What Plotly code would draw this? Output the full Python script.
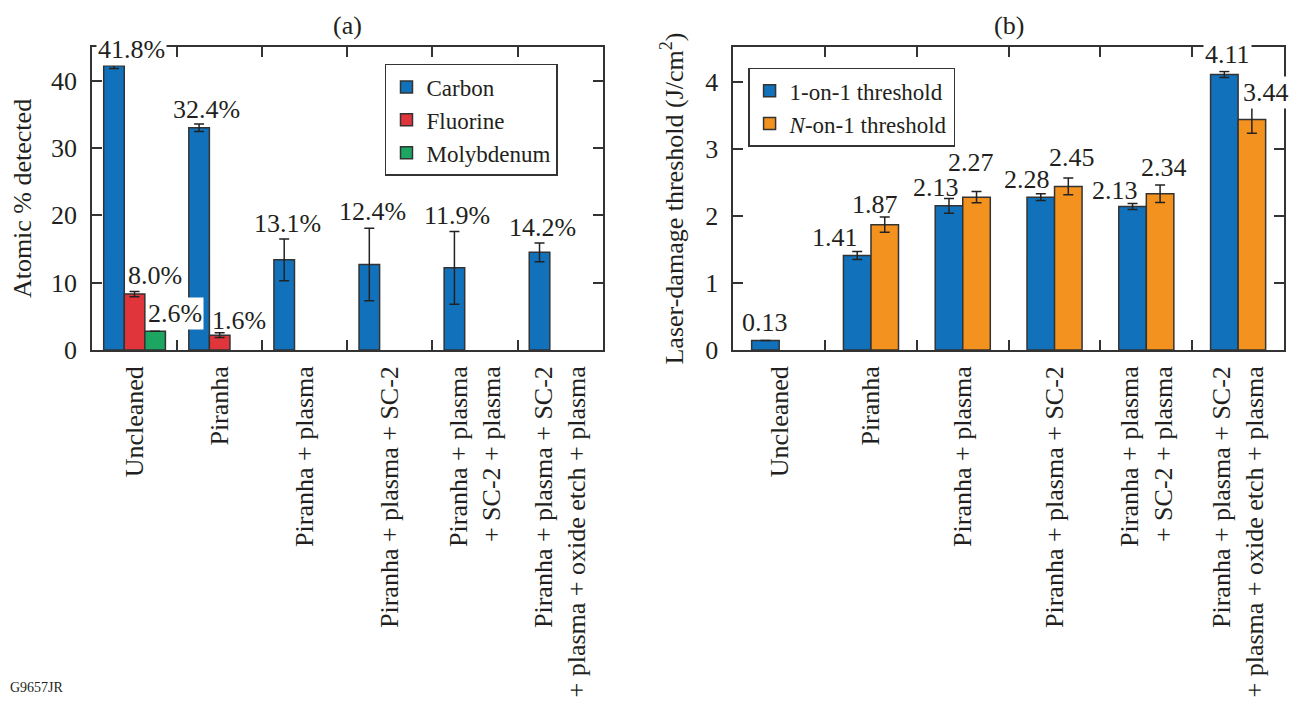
import plotly.graph_objects as go

# ---------------- data ----------------
categories = [
    "Uncleaned",
    "Piranha",
    "Piranha + plasma",
    "Piranha + plasma + SC-2",
    "Piranha + plasma<br>+ SC-2 + plasma",
    "Piranha + plasma + SC-2<br>+ plasma + oxide etch + plasma",
]

# panel (a): atomic % detected
carbon = [42.2, 33.0, 13.4, 12.7, 12.2, 14.5]
carbon_err = [0.4, 0.55, 3.1, 5.4, 5.4, 1.4]
carbon_labels = ["41.8%", "32.4%", "13.1%", "12.4%", "11.9%", "14.2%"]

fluorine = [8.3, 2.2, None, None, None, None]
fluorine_err = [0.4, 0.35, 0, 0, 0, 0]
fluorine_labels = ["8.0%", "1.6%", None, None, None, None]

molybdenum = [2.8, None, None, None, None, None]
molybdenum_err = [0, 0, 0, 0, 0, 0]
molybdenum_labels = ["2.6%", None, None, None, None, None]

# panel (b): laser-damage threshold (J/cm^2)
one_on_one = [0.14, 1.41, 2.15, 2.28, 2.14, 4.11]
one_on_one_err = [0, 0.06, 0.11, 0.05, 0.045, 0.045]
one_on_one_labels = ["0.13", "1.41", "2.13", "2.28", "2.13", "4.11"]

n_on_one = [None, 1.87, 2.28, 2.44, 2.33, 3.44]
n_on_one_err = [0, 0.115, 0.085, 0.125, 0.13, 0.205]
n_on_one_labels = [None, "1.87", "2.27", "2.45", "2.34", "3.44"]

# ---------------- style ----------------
FONT = "Liberation Serif"
TXT = "#231f20"
LINE = "#333333"
FS = 26
BLUE = "#1172bb"
RED = "#e1353c"
GREEN = "#1da562"
ORANGE = "#f4921f"

WA = 0.2417   # bar width panel (a), category units
WB = 0.30     # bar width panel (b)
DESC = 7      # px between text baseline and annotation box bottom

# label placement tweaks (px): horizontal shift and gap above the error bar
carbon_lab_dx = [18, 7, 3, 3, 3, 3]
carbon_lab_gap = [4.3, 4.9, 6.3, 7.2, 6.3, 6.3]
fluorine_lab_dx = [20.7, 19.3]
fluorine_lab_gap = [6.8, 2.9]
molybdenum_lab_dx = [19.6]
molybdenum_lab_gap = [8]
one_lab_dx = [0, -22, -13.4, -13.4, -17.9, 3.5]
one_lab_gap = [8.9, 4.8, 1.3, 4.6, 3.6, 7.6]
n_lab_dx = [0, -9.9, -5.6, 3.6, 3.8, 13.7]
n_lab_gap = [0, 3, 19.8, 11.4, 8.5, 4.1]
white_bg = {"41.8%", "2.6%", "4.11", "3.44"}

err_style = dict(type="data", color="#222222", thickness=1.5, width=5)
bar_line = dict(color=LINE, width=1.5)

fig = go.Figure()

def add_bar(y, err, name, color, offset, width, xa, ya, legend):
    fig.add_trace(go.Bar(
        x=categories, y=y, name=name,
        marker=dict(color=color, line=bar_line),
        error_y=dict(array=err, **err_style),
        offset=offset, width=width,
        xaxis=xa, yaxis=ya, legend=legend,
    ))

add_bar(carbon, carbon_err, "Carbon", BLUE, -1.5 * WA, WA, "x", "y", "legend")
add_bar(fluorine, fluorine_err, "Fluorine", RED, -0.5 * WA, WA, "x", "y", "legend")
add_bar(molybdenum, molybdenum_err, "Molybdenum", GREEN, 0.5 * WA, WA, "x", "y", "legend")
add_bar(one_on_one, one_on_one_err, "1-on-1 threshold", BLUE, -WB, WB, "x2", "y2", "legend2")
add_bar(n_on_one, n_on_one_err, "<i>N</i>-on-1 threshold", ORANGE, 0, WB, "x2", "y2", "legend2")

annotations = []

def add_labels(vals, errs, labels, slot, dxs, gaps, xref, yref):
    for i, (v, e, lab) in enumerate(zip(vals, errs, labels)):
        if v is None or lab is None:
            continue
        dx = dxs[i] if i < len(dxs) else 0
        gap = gaps[i] if i < len(gaps) else 6
        annotations.append(dict(
            x=i + slot, y=v + (e or 0), xref=xref, yref=yref,
            text=lab, showarrow=False, xanchor="center", yanchor="bottom",
            xshift=dx, yshift=gap - DESC, borderpad=1,
            bgcolor="white" if lab in white_bg else "rgba(0,0,0,0)",
            font=dict(family=FONT, size=FS, color=TXT),
        ))

add_labels(carbon, carbon_err, carbon_labels, -WA, carbon_lab_dx, carbon_lab_gap, "x", "y")
add_labels(fluorine, fluorine_err, fluorine_labels, 0, fluorine_lab_dx, fluorine_lab_gap, "x", "y")
add_labels(molybdenum, molybdenum_err, molybdenum_labels, WA, molybdenum_lab_dx, molybdenum_lab_gap, "x", "y")
add_labels(one_on_one, one_on_one_err, one_on_one_labels, -WB / 2, one_lab_dx, one_lab_gap, "x2", "y2")
add_labels(n_on_one, n_on_one_err, n_on_one_labels, WB / 2, n_lab_dx, n_lab_gap, "x2", "y2")

for txt, xp in [("(a)", 0.2141), ("(b)", 0.769)]:
    annotations.append(dict(x=xp, y=1.0726, xref="paper", yref="paper", text=txt,
                            showarrow=False, xanchor="center", yanchor="middle",
                            font=dict(family=FONT, size=FS, color=TXT)))
annotations.append(dict(x=-0.0702, y=-1.1155, xref="paper", yref="paper", text="G9657JR",
                        showarrow=False, xanchor="left", yanchor="middle",
                        font=dict(family=FONT, size=14, color=TXT)))

xcommon = dict(type="category", range=[-0.5, 5.5], tickson="boundaries", ticks="inside",
               ticklen=10, tickwidth=1.5, tickcolor=LINE, mirror="allticks", showline=True,
               linecolor=LINE, linewidth=1.5, tickangle=-90, showgrid=False,
               tickfont=dict(family=FONT, size=FS, color=TXT), ticklabelstandoff=4,
               automargin=False, fixedrange=True)
ycommon = dict(ticks="inside", ticklen=10, tickwidth=1.5, tickcolor=LINE, mirror="allticks",
               showline=True, linecolor=LINE, linewidth=1.5, showgrid=False, zeroline=False,
               tickfont=dict(family=FONT, size=FS, color=TXT), ticklabelstandoff=8,
               automargin=False, fixedrange=True)

legend_common = dict(xanchor="left", yanchor="top", bgcolor="white", bordercolor=LINE,
                     borderwidth=1.5, font=dict(family=FONT, size=23, color=TXT),
                     traceorder="normal", entrywidthmode="pixels")

fig.update_layout(
    width=1289, height=702,
    margin=dict(l=92, r=5, t=47, b=352),
    paper_bgcolor="white", plot_bgcolor="white",
    font=dict(family=FONT, size=FS, color=TXT),
    showlegend=True,
    xaxis=dict(domain=[0, 0.4284], anchor="y", **xcommon),
    yaxis=dict(domain=[0, 1], anchor="x", range=[0, 45], tickvals=[0, 10, 20, 30, 40],
               title=dict(text="Atomic % detected", standoff=12,
                          font=dict(family=FONT, size=FS, color=TXT)), **ycommon),
    xaxis2=dict(domain=[0.538, 1], anchor="y2", **xcommon),
    yaxis2=dict(domain=[0, 1], anchor="x2", range=[0, 4.52], tickvals=[0, 1, 2, 3, 4],
                title=dict(text="Laser-damage threshold (J/cm<sup>2</sup>)", standoff=14,
                           font=dict(family=FONT, size=FS, color=TXT)), **ycommon),
    legend=dict(x=0.2458, y=0.9439, entrywidth=140, **legend_common),
    legend2=dict(x=0.5504, y=0.9317, entrywidth=178, **legend_common),
    annotations=annotations,
)

fig.write_html("out.html")
